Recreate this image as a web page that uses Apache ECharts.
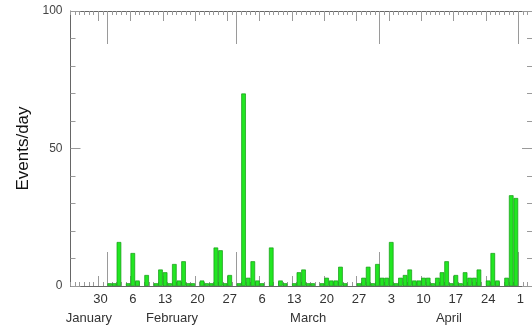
<!DOCTYPE html>
<html>
<head>
<meta charset="utf-8">
<script src="https://cdn.jsdelivr.net/npm/echarts@6/dist/echarts.min.js"></script>
<style>
  html, body { margin: 0; padding: 0; background: #fff; }
  #chart { width: 532px; height: 329px; }
</style>
</head>
<body>
<div id="chart"></div>
<script>
// daily event counts, one value per day (first visible day is Jan 24)
const janCounts = [0, 0, 0, 0, 0, 0, 0, 0]; // Jan 24..31
const febCounts = [1, 1, 16, 0, 1, 12, 2, 0, 4, 0, 1, 6, 5, 1, 8, 2, 9, 1, 1, 0, 2, 1, 1, 14, 13, 1, 4, 0];
const marCounts = [1, 70, 3, 9, 2, 1, 0, 14, 0, 2, 1, 0, 1, 5, 6, 1, 1, 0, 1, 3, 2, 2, 7, 1, 0, 0, 1, 3, 7, 1, 8];
const aprCounts = [3, 3, 16, 1, 3, 4, 6, 2, 2, 3, 3, 1, 3, 5, 9, 1, 4, 1, 5, 3, 3, 6, 0, 2, 12, 2, 0, 3, 33, 32];
const mayCounts = [0, 0, 0];

const monthNames = ['January', 'February', 'March', 'April'];
const monthLengths = [janCounts.length, febCounts.length, marCounts.length, aprCounts.length];
const weekLabels = ['30', '6', '13', '20', '27', '6', '13', '20', '27', '3', '10', '17', '24', '1'];
const firstSunday = 6;   // Jan 30 = day index 6
const totalDays = 100;

const counts = [].concat(janCounts, febCounts, marCounts, aprCounts, mayCounts);

// tick positions (day boundaries)
const dayTicks = [];
for (let i = 0; i <= totalDays; i++) dayTicks.push(i);
const weekTicks = weekLabels.map((_, i) => firstSunday + i * 7);
const weekCenters = weekTicks.map(d => d + 0.5);
const monthTicks = [];
const monthCenters = [];
let acc = 0;
monthLengths.forEach((len) => {
  monthCenters.push(acc + len / 2);
  acc += len;
  monthTicks.push(acc);
});

const barData = [];
counts.forEach((v, i) => {
  if (v > 0) barData.push([i + 0.5, v]);
});

const gridLeft = 70.5;
const gridW = 462;
const font = 'Liberation Sans, Arial, Helvetica, sans-serif';
const tickColor = '#9a9a9a';
const lineColor = '#666';

function xAxis(position, ticks, len, extra) {
  return Object.assign({
    type: 'value',
    position: position,
    min: 0,
    max: totalDays,
    axisLine: { show: false, onZero: false },
    axisTick: { show: true, inside: true, length: len, customValues: ticks,
      lineStyle: { color: tickColor, width: 1 } },
    axisLabel: { show: false },
    splitLine: { show: false }
  }, extra || {});
}

function yAxis(position, extra) {
  return Object.assign({
    type: 'value', min: 0, max: 100, interval: 50, position: position,
    axisLine: { show: true, onZero: false, lineStyle: { color: lineColor, width: 1 } },
    axisTick: { show: true, inside: true, length: 10, lineStyle: { color: tickColor } },
    minorTick: { show: true, splitNumber: 5, length: 5, lineStyle: { color: tickColor } },
    axisLabel: { show: false },
    splitLine: { show: false }
  }, extra || {});
}

const chart = echarts.init(document.getElementById('chart'));
chart.setOption({
  animation: false,
  grid: { left: gridLeft, top: 11, width: gridW, bottom: 43 },
  xAxis: [
    xAxis('bottom', dayTicks, 4, {
      axisLine: { show: true, onZero: false, lineStyle: { color: lineColor, width: 1 } },
      axisLabel: {
        show: true, customValues: weekCenters, margin: 7,
        fontSize: 13, fontFamily: font, color: '#333',
        formatter: v => weekLabels[weekCenters.indexOf(v)]
      }
    }),
    xAxis('bottom', weekTicks, 10),
    xAxis('bottom', monthTicks, 34, {
      axisLabel: {
        show: true, customValues: monthCenters, margin: 26,
        fontSize: 13, fontFamily: font, color: '#333',
        formatter: v => monthNames[monthCenters.indexOf(v)]
      }
    }),
    xAxis('top', dayTicks, 4, {
      axisLine: { show: true, onZero: false, lineStyle: { color: lineColor, width: 1 } }
    }),
    xAxis('top', weekTicks, 10),
    xAxis('top', monthTicks, 33)
  ],
  yAxis: [
    yAxis('left', {
      name: 'Events/day', nameLocation: 'middle', nameGap: 38,
      nameTextStyle: { fontSize: 17, fontFamily: font, color: '#111' },
      axisLabel: { show: true, fontSize: 12, fontFamily: font, color: '#444', margin: 8 }
    }),
    yAxis('right')
  ],
  series: [{
    type: 'bar',
    xAxisIndex: 0,
    yAxisIndex: 0,
    data: barData,
    barWidth: gridW / totalDays,
    itemStyle: { color: '#22e622', borderColor: '#139a13', borderWidth: 0.7 }
  }]
});
</script>
</body>
</html>
